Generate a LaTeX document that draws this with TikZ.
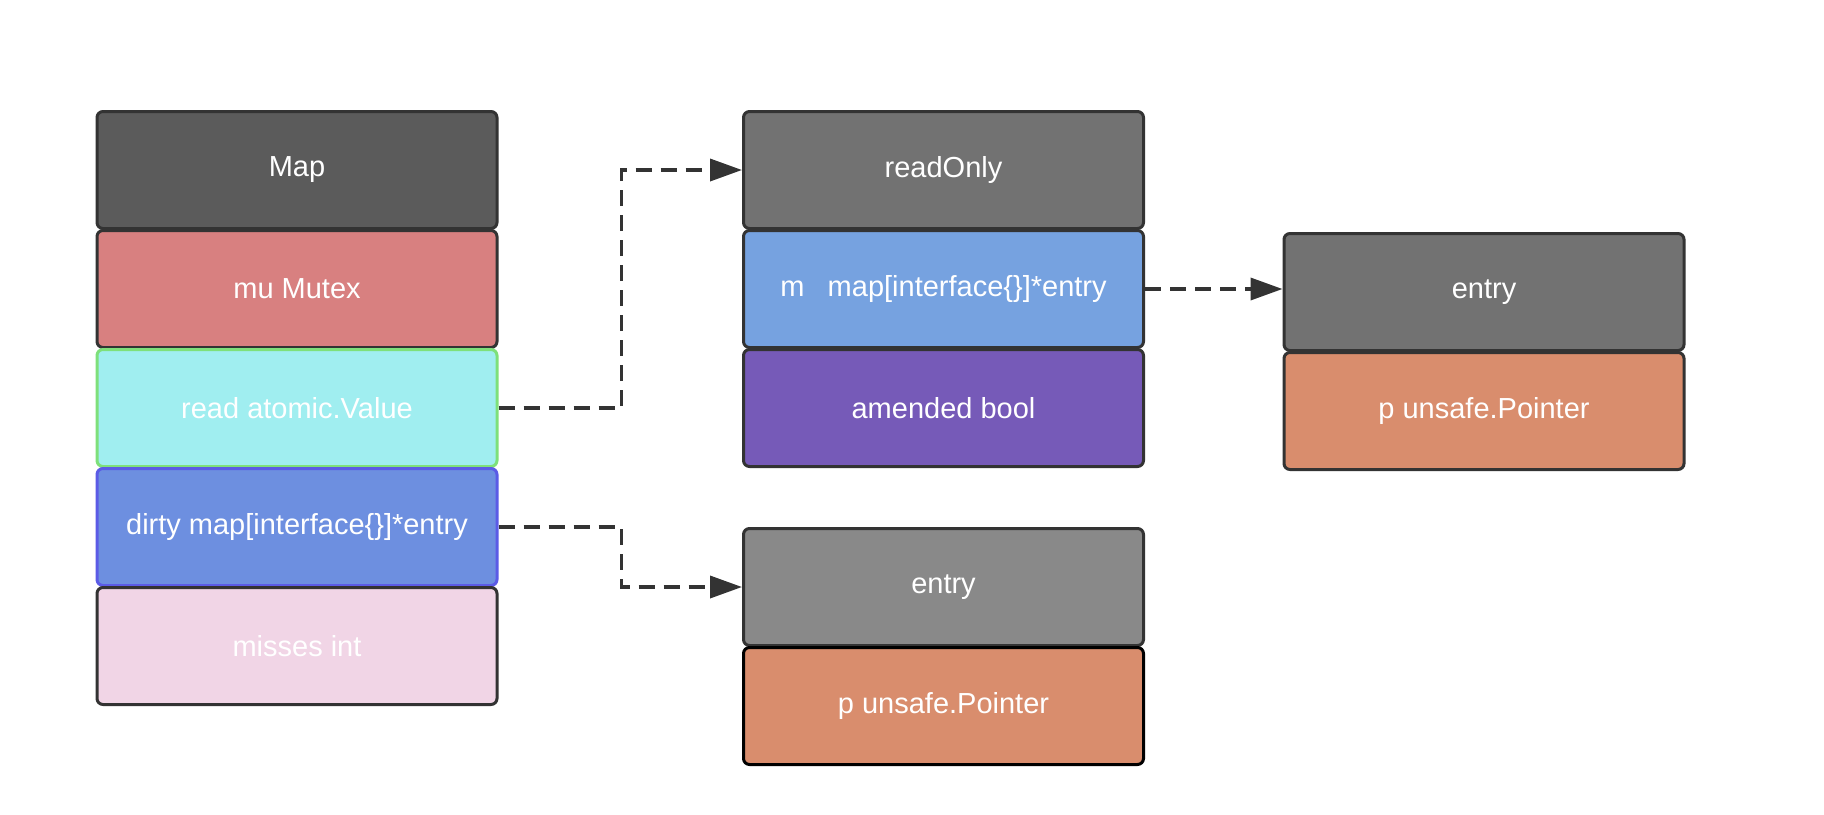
\documentclass[tikz,border=0pt]{standalone}
\usepackage{fontspec}
\setmainfont{Liberation Sans}
\usetikzlibrary{shapes,arrows.meta,positioning}
\definecolor{edge}{HTML}{333333}
\definecolor{mapgray}{HTML}{5B5B5B}
\definecolor{mutexred}{HTML}{D88080}
\definecolor{readcyan}{HTML}{A0EEF0}
\definecolor{readedge}{HTML}{7EE07A}
\definecolor{dirtyblue}{HTML}{6D8FE0}
\definecolor{dirtyedge}{HTML}{5B5BE6}
\definecolor{missespink}{HTML}{F1D5E6}
\definecolor{ropgray}{HTML}{727272}
\definecolor{mblue}{HTML}{76A2E0}
\definecolor{amendpurple}{HTML}{765AB8}
\definecolor{entrygray}{HTML}{898989}
\definecolor{ptrorange}{HTML}{D98D6D}
\tikzstyle{field} = [rectangle, draw=edge, line width=1.5pt, rounded corners=3pt,
    minimum width=200pt, minimum height=58.5pt, text=white, text centered,
    font=\fontsize{14.5pt}{17pt}\selectfont]
\tikzstyle{pointer} = [draw=edge, line width=1.8pt, dash pattern=on 8pt off 4.5pt,
    -{Triangle[length=16pt,width=11pt]}]

\begin{document}
\begin{tikzpicture}[node distance=59.5pt]
	\useasboundingbox (0,0) rectangle (912pt,-407pt);
	% Map struct
	\node [field, fill=mapgray] (map) at (148.5pt,-85pt) {Map};
	\node [field, fill=mutexred, below of=map] (mu) {mu Mutex};
	\node [field, fill=readcyan, draw=readedge, below of=mu] (read) {read atomic.Value};
	\node [field, fill=dirtyblue, draw=dirtyedge, below of=read] (dirty) {dirty map[interface\{\}]*entry};
	\node [field, fill=missespink, below of=dirty] (misses) {misses int};
	% readOnly struct
	\node [field, fill=ropgray, right of=map, node distance=323.25pt] (readonly) {readOnly};
	\node [field, fill=mblue, below of=readonly] (m) {m\hspace{0.8em}map[interface\{\}]*entry};
	\node [field, fill=amendpurple, below of=m] (amended) {amended bool};
	% entry of dirty
	\node [field, fill=entrygray, below of=amended, node distance=89.5pt] (dentry) {entry};
	\node [field, fill=ptrorange, draw=black, below of=dentry] (dptr) {p unsafe.Pointer};
	% entry of readOnly
	\node [field, fill=ropgray, right of=m, node distance=270.25pt, yshift=-1.5pt] (rentry) {entry};
	\node [field, fill=ptrorange, below of=rentry] (rptr) {p unsafe.Pointer};
	% Draw edges
	\path [pointer] (read.east) -- ++(61.5pt,0) |- (readonly.west);
	\path [pointer] (dirty.east) -- ++(61.5pt,0) |- (dentry.west);
	\path [pointer] (m.east) -- (m.east -| rentry.west);
\end{tikzpicture}
\end{document}
